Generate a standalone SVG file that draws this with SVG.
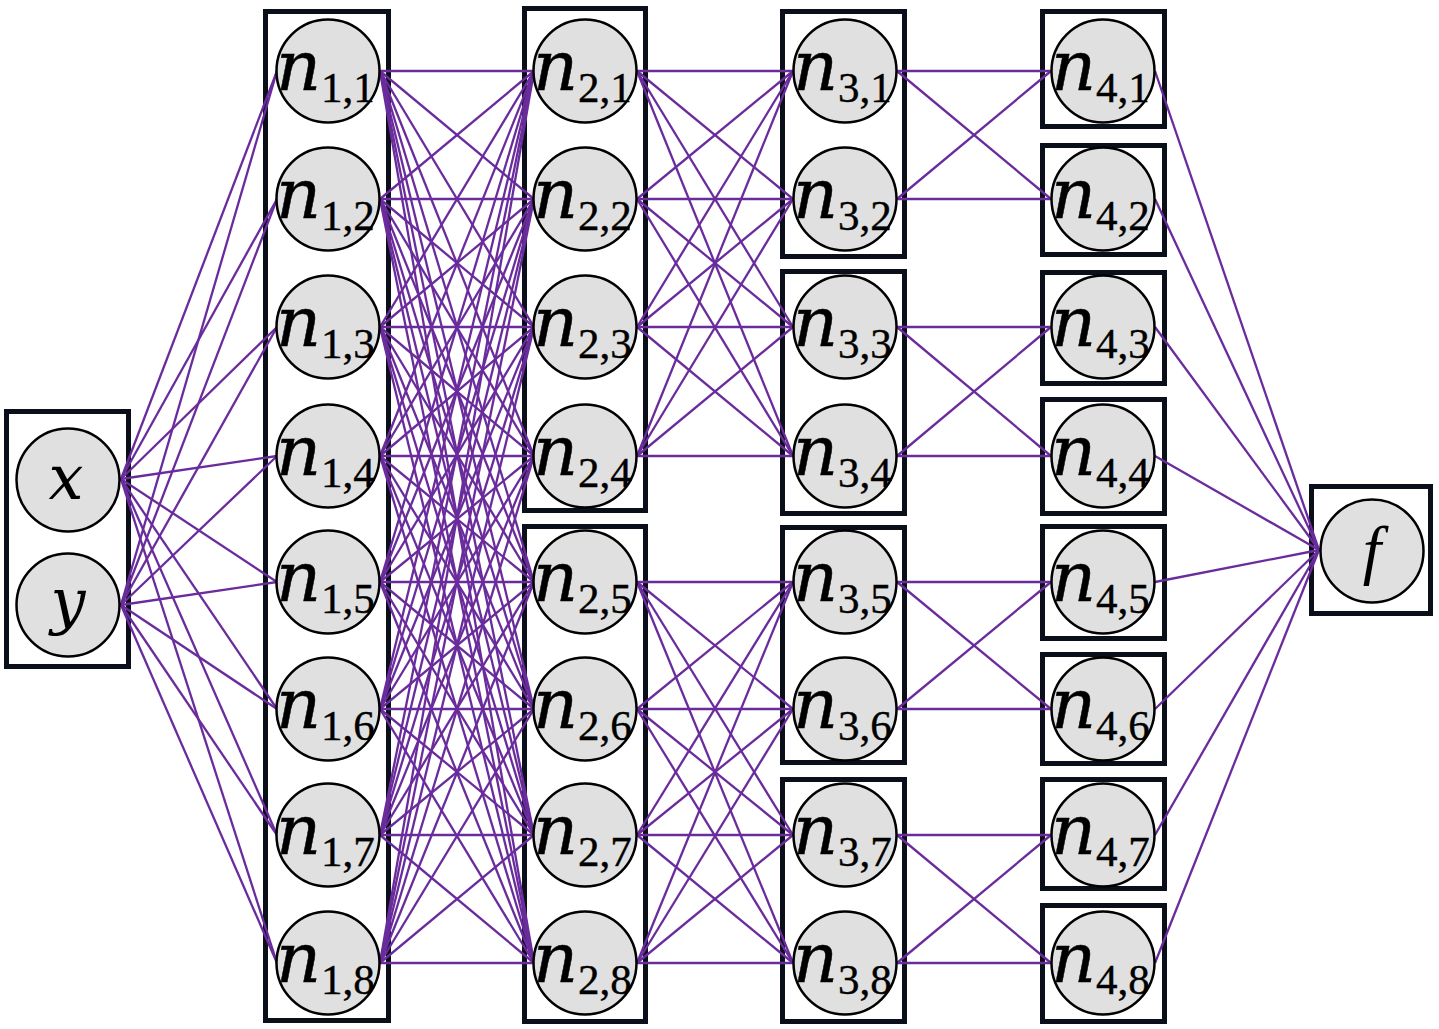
<svg xmlns="http://www.w3.org/2000/svg" width="1439" height="1029" viewBox="0 0 1439 1029">
<style>
.box{fill:#fff;stroke:#0b0f1a;stroke-width:5}
.nd{fill:#e0e0e0;stroke:#000;stroke-width:2.5}
.n{font-family:"DejaVu Serif",serif;font-style:italic;font-size:70px;fill:#000;stroke:#000;stroke-width:0.5}
.s{font-family:"Liberation Serif",serif;font-style:normal;font-size:43px;fill:#000;stroke:#000;stroke-width:0.4}
.v{font-family:"DejaVu Serif",serif;font-style:italic;font-size:62px;fill:#000;text-anchor:middle}
.fv{font-family:"Liberation Serif",serif;font-style:italic;font-size:66px;fill:#000;text-anchor:middle}
#connectors line{stroke:#6a2c9c;stroke-width:2.3}
</style>
<rect width="1439" height="1029" fill="#fff"/>
<g id="boxes">
<rect class="box" x="6.5" y="411.5" width="122" height="255"/>
<rect class="box" x="265.5" y="11.5" width="123" height="1009"/>
<rect class="box" x="524.5" y="8.5" width="121" height="502"/>
<rect class="box" x="524.5" y="526.5" width="121" height="495"/>
<rect class="box" x="782.5" y="11.5" width="122" height="245"/>
<rect class="box" x="782.5" y="271.5" width="122" height="242"/>
<rect class="box" x="782.5" y="527.5" width="122" height="235"/>
<rect class="box" x="782.5" y="779.5" width="122" height="242"/>
<rect class="box" x="1042.5" y="11.5" width="122" height="115"/>
<rect class="box" x="1042.5" y="145.5" width="122" height="109"/>
<rect class="box" x="1042.5" y="272.5" width="122" height="111"/>
<rect class="box" x="1042.5" y="399.5" width="122" height="114"/>
<rect class="box" x="1042.5" y="526.5" width="122" height="112"/>
<rect class="box" x="1042.5" y="654.5" width="122" height="109"/>
<rect class="box" x="1042.5" y="779.5" width="122" height="109"/>
<rect class="box" x="1042.5" y="905.5" width="122" height="116"/>
<rect class="box" x="1311.5" y="486.5" width="119" height="127"/>
</g>
<g id="connectors">
<line x1="121" y1="479" x2="277" y2="71"/><line x1="121" y1="479" x2="277" y2="199"/><line x1="121" y1="479" x2="277" y2="327"/><line x1="121" y1="479" x2="277" y2="456"/><line x1="121" y1="479" x2="277" y2="582"/><line x1="121" y1="479" x2="277" y2="709"/><line x1="121" y1="479" x2="277" y2="835"/><line x1="121" y1="479" x2="277" y2="963"/>
<line x1="121" y1="605" x2="277" y2="71"/><line x1="121" y1="605" x2="277" y2="199"/><line x1="121" y1="605" x2="277" y2="327"/><line x1="121" y1="605" x2="277" y2="456"/><line x1="121" y1="605" x2="277" y2="582"/><line x1="121" y1="605" x2="277" y2="709"/><line x1="121" y1="605" x2="277" y2="835"/><line x1="121" y1="605" x2="277" y2="963"/>
<line x1="380" y1="71" x2="534" y2="71"/><line x1="380" y1="71" x2="534" y2="199"/><line x1="380" y1="71" x2="534" y2="327"/><line x1="380" y1="71" x2="534" y2="456"/><line x1="380" y1="71" x2="534" y2="582"/><line x1="380" y1="71" x2="534" y2="709"/><line x1="380" y1="71" x2="534" y2="835"/><line x1="380" y1="71" x2="534" y2="963"/>
<line x1="380" y1="199" x2="534" y2="71"/><line x1="380" y1="199" x2="534" y2="199"/><line x1="380" y1="199" x2="534" y2="327"/><line x1="380" y1="199" x2="534" y2="456"/><line x1="380" y1="199" x2="534" y2="582"/><line x1="380" y1="199" x2="534" y2="709"/><line x1="380" y1="199" x2="534" y2="835"/><line x1="380" y1="199" x2="534" y2="963"/>
<line x1="380" y1="327" x2="534" y2="71"/><line x1="380" y1="327" x2="534" y2="199"/><line x1="380" y1="327" x2="534" y2="327"/><line x1="380" y1="327" x2="534" y2="456"/><line x1="380" y1="327" x2="534" y2="582"/><line x1="380" y1="327" x2="534" y2="709"/><line x1="380" y1="327" x2="534" y2="835"/><line x1="380" y1="327" x2="534" y2="963"/>
<line x1="380" y1="456" x2="534" y2="71"/><line x1="380" y1="456" x2="534" y2="199"/><line x1="380" y1="456" x2="534" y2="327"/><line x1="380" y1="456" x2="534" y2="456"/><line x1="380" y1="456" x2="534" y2="582"/><line x1="380" y1="456" x2="534" y2="709"/><line x1="380" y1="456" x2="534" y2="835"/><line x1="380" y1="456" x2="534" y2="963"/>
<line x1="380" y1="582" x2="534" y2="71"/><line x1="380" y1="582" x2="534" y2="199"/><line x1="380" y1="582" x2="534" y2="327"/><line x1="380" y1="582" x2="534" y2="456"/><line x1="380" y1="582" x2="534" y2="582"/><line x1="380" y1="582" x2="534" y2="709"/><line x1="380" y1="582" x2="534" y2="835"/><line x1="380" y1="582" x2="534" y2="963"/>
<line x1="380" y1="709" x2="534" y2="71"/><line x1="380" y1="709" x2="534" y2="199"/><line x1="380" y1="709" x2="534" y2="327"/><line x1="380" y1="709" x2="534" y2="456"/><line x1="380" y1="709" x2="534" y2="582"/><line x1="380" y1="709" x2="534" y2="709"/><line x1="380" y1="709" x2="534" y2="835"/><line x1="380" y1="709" x2="534" y2="963"/>
<line x1="380" y1="835" x2="534" y2="71"/><line x1="380" y1="835" x2="534" y2="199"/><line x1="380" y1="835" x2="534" y2="327"/><line x1="380" y1="835" x2="534" y2="456"/><line x1="380" y1="835" x2="534" y2="582"/><line x1="380" y1="835" x2="534" y2="709"/><line x1="380" y1="835" x2="534" y2="835"/><line x1="380" y1="835" x2="534" y2="963"/>
<line x1="380" y1="963" x2="534" y2="71"/><line x1="380" y1="963" x2="534" y2="199"/><line x1="380" y1="963" x2="534" y2="327"/><line x1="380" y1="963" x2="534" y2="456"/><line x1="380" y1="963" x2="534" y2="582"/><line x1="380" y1="963" x2="534" y2="709"/><line x1="380" y1="963" x2="534" y2="835"/><line x1="380" y1="963" x2="534" y2="963"/>
<line x1="637" y1="71" x2="793" y2="71"/><line x1="637" y1="71" x2="793" y2="199"/><line x1="637" y1="71" x2="793" y2="327"/><line x1="637" y1="71" x2="793" y2="456"/>
<line x1="637" y1="199" x2="793" y2="71"/><line x1="637" y1="199" x2="793" y2="199"/><line x1="637" y1="199" x2="793" y2="327"/><line x1="637" y1="199" x2="793" y2="456"/>
<line x1="637" y1="327" x2="793" y2="71"/><line x1="637" y1="327" x2="793" y2="199"/><line x1="637" y1="327" x2="793" y2="327"/><line x1="637" y1="327" x2="793" y2="456"/>
<line x1="637" y1="456" x2="793" y2="71"/><line x1="637" y1="456" x2="793" y2="199"/><line x1="637" y1="456" x2="793" y2="327"/><line x1="637" y1="456" x2="793" y2="456"/>
<line x1="637" y1="582" x2="793" y2="582"/><line x1="637" y1="582" x2="793" y2="709"/><line x1="637" y1="582" x2="793" y2="835"/><line x1="637" y1="582" x2="793" y2="963"/>
<line x1="637" y1="709" x2="793" y2="582"/><line x1="637" y1="709" x2="793" y2="709"/><line x1="637" y1="709" x2="793" y2="835"/><line x1="637" y1="709" x2="793" y2="963"/>
<line x1="637" y1="835" x2="793" y2="582"/><line x1="637" y1="835" x2="793" y2="709"/><line x1="637" y1="835" x2="793" y2="835"/><line x1="637" y1="835" x2="793" y2="963"/>
<line x1="637" y1="963" x2="793" y2="582"/><line x1="637" y1="963" x2="793" y2="709"/><line x1="637" y1="963" x2="793" y2="835"/><line x1="637" y1="963" x2="793" y2="963"/>
<line x1="897" y1="71" x2="1051" y2="71"/><line x1="897" y1="71" x2="1051" y2="199"/><line x1="897" y1="199" x2="1051" y2="71"/><line x1="897" y1="199" x2="1051" y2="199"/>
<line x1="897" y1="327" x2="1051" y2="327"/><line x1="897" y1="327" x2="1051" y2="456"/><line x1="897" y1="456" x2="1051" y2="327"/><line x1="897" y1="456" x2="1051" y2="456"/>
<line x1="897" y1="582" x2="1051" y2="582"/><line x1="897" y1="582" x2="1051" y2="709"/><line x1="897" y1="709" x2="1051" y2="582"/><line x1="897" y1="709" x2="1051" y2="709"/>
<line x1="897" y1="835" x2="1051" y2="835"/><line x1="897" y1="835" x2="1051" y2="963"/><line x1="897" y1="963" x2="1051" y2="835"/><line x1="897" y1="963" x2="1051" y2="963"/>
<line x1="1155" y1="71" x2="1319" y2="550"/><line x1="1155" y1="199" x2="1319" y2="550"/><line x1="1155" y1="327" x2="1319" y2="550"/><line x1="1155" y1="456" x2="1319" y2="550"/><line x1="1155" y1="582" x2="1319" y2="550"/><line x1="1155" y1="709" x2="1319" y2="550"/><line x1="1155" y1="835" x2="1319" y2="550"/><line x1="1155" y1="963" x2="1319" y2="550"/>
</g>
<g id="node-x"><circle class="nd" cx="68" cy="480" r="51.5"/><text class="v" x="66" y="499">x</text></g>
<g id="node-y"><circle class="nd" cx="68" cy="605" r="51.5"/><text class="v" x="68" y="622">y</text></g>
<g id="node-n1-1"><circle class="nd" cx="328" cy="71" r="51.5"/><text><tspan class="n" x="276" y="90">n</tspan><tspan class="s" x="321" y="102">1,1</tspan></text></g>
<g id="node-n1-2"><circle class="nd" cx="328" cy="199" r="51.5"/><text><tspan class="n" x="276" y="218">n</tspan><tspan class="s" x="321" y="230">1,2</tspan></text></g>
<g id="node-n1-3"><circle class="nd" cx="328" cy="327" r="51.5"/><text><tspan class="n" x="276" y="346">n</tspan><tspan class="s" x="321" y="358">1,3</tspan></text></g>
<g id="node-n1-4"><circle class="nd" cx="328" cy="456" r="51.5"/><text><tspan class="n" x="276" y="475">n</tspan><tspan class="s" x="321" y="487">1,4</tspan></text></g>
<g id="node-n1-5"><circle class="nd" cx="328" cy="582" r="51.5"/><text><tspan class="n" x="276" y="601">n</tspan><tspan class="s" x="321" y="613">1,5</tspan></text></g>
<g id="node-n1-6"><circle class="nd" cx="328" cy="709" r="51.5"/><text><tspan class="n" x="276" y="728">n</tspan><tspan class="s" x="321" y="740">1,6</tspan></text></g>
<g id="node-n1-7"><circle class="nd" cx="328" cy="835" r="51.5"/><text><tspan class="n" x="276" y="854">n</tspan><tspan class="s" x="321" y="866">1,7</tspan></text></g>
<g id="node-n1-8"><circle class="nd" cx="328" cy="963" r="51.5"/><text><tspan class="n" x="276" y="982">n</tspan><tspan class="s" x="321" y="994">1,8</tspan></text></g>
<g id="node-n2-1"><circle class="nd" cx="585" cy="71" r="51.5"/><text><tspan class="n" x="533" y="90">n</tspan><tspan class="s" x="578" y="102">2,1</tspan></text></g>
<g id="node-n2-2"><circle class="nd" cx="585" cy="199" r="51.5"/><text><tspan class="n" x="533" y="218">n</tspan><tspan class="s" x="578" y="230">2,2</tspan></text></g>
<g id="node-n2-3"><circle class="nd" cx="585" cy="327" r="51.5"/><text><tspan class="n" x="533" y="346">n</tspan><tspan class="s" x="578" y="358">2,3</tspan></text></g>
<g id="node-n2-4"><circle class="nd" cx="585" cy="456" r="51.5"/><text><tspan class="n" x="533" y="475">n</tspan><tspan class="s" x="578" y="487">2,4</tspan></text></g>
<g id="node-n2-5"><circle class="nd" cx="585" cy="582" r="51.5"/><text><tspan class="n" x="533" y="601">n</tspan><tspan class="s" x="578" y="613">2,5</tspan></text></g>
<g id="node-n2-6"><circle class="nd" cx="585" cy="709" r="51.5"/><text><tspan class="n" x="533" y="728">n</tspan><tspan class="s" x="578" y="740">2,6</tspan></text></g>
<g id="node-n2-7"><circle class="nd" cx="585" cy="835" r="51.5"/><text><tspan class="n" x="533" y="854">n</tspan><tspan class="s" x="578" y="866">2,7</tspan></text></g>
<g id="node-n2-8"><circle class="nd" cx="585" cy="963" r="51.5"/><text><tspan class="n" x="533" y="982">n</tspan><tspan class="s" x="578" y="994">2,8</tspan></text></g>
<g id="node-n3-1"><circle class="nd" cx="845" cy="71" r="51.5"/><text><tspan class="n" x="793" y="90">n</tspan><tspan class="s" x="838" y="102">3,1</tspan></text></g>
<g id="node-n3-2"><circle class="nd" cx="845" cy="199" r="51.5"/><text><tspan class="n" x="793" y="218">n</tspan><tspan class="s" x="838" y="230">3,2</tspan></text></g>
<g id="node-n3-3"><circle class="nd" cx="845" cy="327" r="51.5"/><text><tspan class="n" x="793" y="346">n</tspan><tspan class="s" x="838" y="358">3,3</tspan></text></g>
<g id="node-n3-4"><circle class="nd" cx="845" cy="456" r="51.5"/><text><tspan class="n" x="793" y="475">n</tspan><tspan class="s" x="838" y="487">3,4</tspan></text></g>
<g id="node-n3-5"><circle class="nd" cx="845" cy="582" r="51.5"/><text><tspan class="n" x="793" y="601">n</tspan><tspan class="s" x="838" y="613">3,5</tspan></text></g>
<g id="node-n3-6"><circle class="nd" cx="845" cy="709" r="51.5"/><text><tspan class="n" x="793" y="728">n</tspan><tspan class="s" x="838" y="740">3,6</tspan></text></g>
<g id="node-n3-7"><circle class="nd" cx="845" cy="835" r="51.5"/><text><tspan class="n" x="793" y="854">n</tspan><tspan class="s" x="838" y="866">3,7</tspan></text></g>
<g id="node-n3-8"><circle class="nd" cx="845" cy="963" r="51.5"/><text><tspan class="n" x="793" y="982">n</tspan><tspan class="s" x="838" y="994">3,8</tspan></text></g>
<g id="node-n4-1"><circle class="nd" cx="1103" cy="71" r="51.5"/><text><tspan class="n" x="1051" y="90">n</tspan><tspan class="s" x="1096" y="102">4,1</tspan></text></g>
<g id="node-n4-2"><circle class="nd" cx="1103" cy="199" r="51.5"/><text><tspan class="n" x="1051" y="218">n</tspan><tspan class="s" x="1096" y="230">4,2</tspan></text></g>
<g id="node-n4-3"><circle class="nd" cx="1103" cy="327" r="51.5"/><text><tspan class="n" x="1051" y="346">n</tspan><tspan class="s" x="1096" y="358">4,3</tspan></text></g>
<g id="node-n4-4"><circle class="nd" cx="1103" cy="456" r="51.5"/><text><tspan class="n" x="1051" y="475">n</tspan><tspan class="s" x="1096" y="487">4,4</tspan></text></g>
<g id="node-n4-5"><circle class="nd" cx="1103" cy="582" r="51.5"/><text><tspan class="n" x="1051" y="601">n</tspan><tspan class="s" x="1096" y="613">4,5</tspan></text></g>
<g id="node-n4-6"><circle class="nd" cx="1103" cy="709" r="51.5"/><text><tspan class="n" x="1051" y="728">n</tspan><tspan class="s" x="1096" y="740">4,6</tspan></text></g>
<g id="node-n4-7"><circle class="nd" cx="1103" cy="835" r="51.5"/><text><tspan class="n" x="1051" y="854">n</tspan><tspan class="s" x="1096" y="866">4,7</tspan></text></g>
<g id="node-n4-8"><circle class="nd" cx="1103" cy="963" r="51.5"/><text><tspan class="n" x="1051" y="982">n</tspan><tspan class="s" x="1096" y="994">4,8</tspan></text></g>
<g id="node-f"><circle class="nd" cx="1372" cy="551" r="51.5"/><text class="fv" x="1372" y="572">f</text></g>
</svg>
